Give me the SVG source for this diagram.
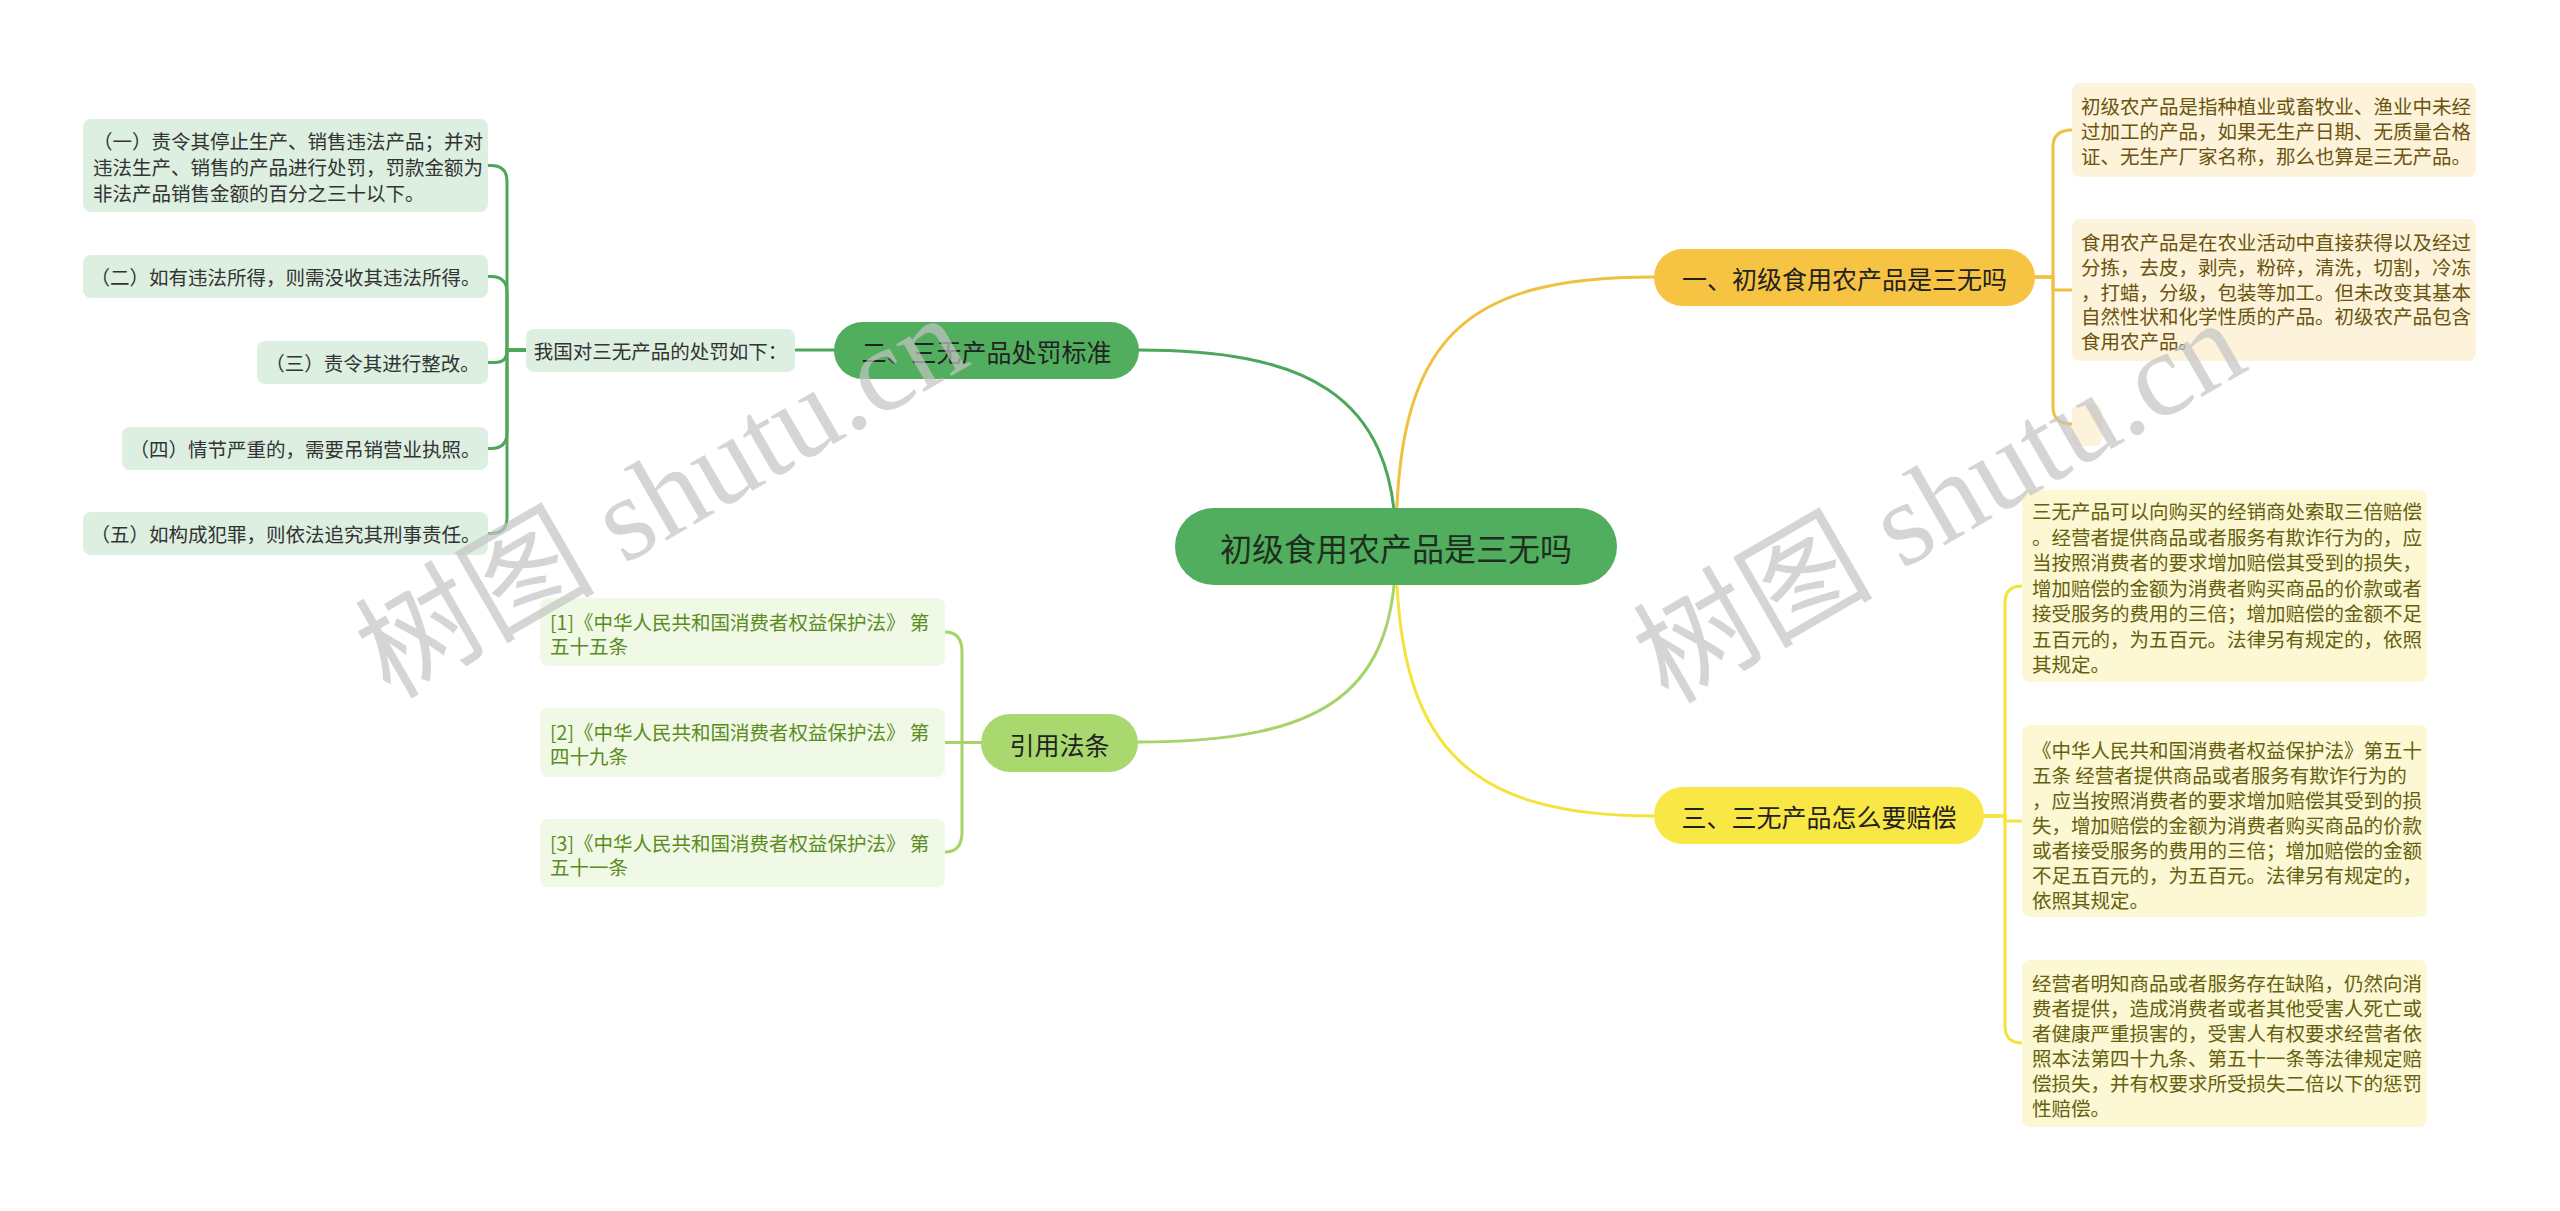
<svg xmlns="http://www.w3.org/2000/svg" width="2560" height="1211" viewBox="0 0 2560 1211">
<style>
text{font-family:"Noto Sans CJK SC","Noto Sans",sans-serif;dominant-baseline:central}
.main{font-size:32px;fill:#1e2e1e}
.br{font-size:25px;fill:#222}
.lf{font-size:19.5px}
.g2{fill:#333}
.g1{fill:#6a5410}
.g3{fill:#66600e}
.g4{fill:#5b8c1e}
.c{fill:none;stroke-width:3;stroke-linecap:round}
.wm{font-family:"Liberation Serif","Noto Sans CJK SC",serif;font-size:120px;fill:#c4c4c4;opacity:0.7;dominant-baseline:auto}
</style>
<rect width="2560" height="1211" fill="#ffffff"/>
<g id="connectors">
<path class="c" stroke="#4ea65a" d="M1138,350 C1300,350 1396,390 1396,546"/>
<path class="c" stroke="#f1c040" d="M1396,546 C1396,340 1460,277 1654,277"/>
<path class="c" stroke="#a6d36a" d="M1396,546 C1396,690 1330,742 1138,742"/>
<path class="c" stroke="#f5e23a" d="M1396,546 C1396,740 1460,816 1654,816"/>
<path class="c" stroke="#4ea65a" d="M834,350 H795"/>
<path class="c" stroke="#4ea65a" d="M526,350 H507 V181.5 Q507,165.5 491,165.5 H488"/>
<path class="c" stroke="#4ea65a" d="M526,350 H507 V292.5 Q507,276.5 491,276.5 H488"/>
<path class="c" stroke="#4ea65a" d="M526,350 H507 V350.5 Q507,362.5 495,362.5 H488"/>
<path class="c" stroke="#4ea65a" d="M526,350 H507 V432.5 Q507,448.5 491,448.5 H488"/>
<path class="c" stroke="#4ea65a" d="M526,350 H507 V517.5 Q507,533.5 491,533.5 H488"/>
<path class="c" stroke="#a6d36a" d="M981,742.5 H962 V652 Q962,632 945,632"/>
<path class="c" stroke="#a6d36a" d="M981,742.5 H945"/>
<path class="c" stroke="#a6d36a" d="M981,742.5 H962 V832 Q962,852 945,852"/>
<path class="c" stroke="#f1c040" d="M2034,277 H2053 V147 Q2053,130 2072,130"/>
<path class="c" stroke="#f1c040" d="M2034,277 H2053 V290 H2072"/>
<path class="c" stroke="#f1c040" d="M2034,277 H2053 V407 Q2053,424 2072,424"/>
<path class="c" stroke="#f5e23a" d="M1984,816 H2005 V603 Q2005,586 2022,586"/>
<path class="c" stroke="#f5e23a" d="M1984,816 H2005 V821 H2022"/>
<path class="c" stroke="#f5e23a" d="M1984,816 H2005 V1026 Q2005,1043 2022,1043"/>
</g>
<g id="root">
<rect x="1175" y="508" width="442" height="77" rx="38.5" fill="#52ae5f"/>
<text class="main" x="1396" y="547" text-anchor="middle">初级食用农产品是三无吗</text>
</g>
<g id="n1">
<rect x="1654" y="249" width="381" height="57" rx="28.5" fill="#f6c343"/>
<text class="br" x="1844.5" y="278" text-anchor="middle">一、初级食用农产品是三无吗</text>
</g>
<g id="n2">
<rect x="834" y="322" width="305" height="57" rx="28.5" fill="#52ae5f"/>
<text class="br" x="986.5" y="351" text-anchor="middle">二、三无产品处罚标准</text>
</g>
<g id="n3">
<rect x="981" y="714" width="157" height="58" rx="29" fill="#a9d86e"/>
<text class="br" x="1059.5" y="743.5" text-anchor="middle">引用法条</text>
</g>
<g id="n4">
<rect x="1654" y="787" width="330" height="57" rx="28.5" fill="#f9e746"/>
<text class="br" x="1819" y="816" text-anchor="middle">三、三无产品怎么要赔偿</text>
</g>
<g id="n2-head">
<rect x="526" y="329" width="269" height="43" rx="8" fill="#dcefe0"/>
<text class="lf g2" x="660.5" y="350.5" text-anchor="middle">我国对三无产品的处罚如下：</text>
</g>
<g id="n2-1">
<rect x="83" y="119" width="405" height="93" rx="8" fill="#dcefe0"/>
<text class="lf g2"><tspan x="93" y="140">（一）责令其停止生产、销售违法产品；并对</tspan><tspan x="93" y="166">违法生产、销售的产品进行处罚，罚款金额为</tspan><tspan x="93" y="192">非法产品销售金额的百分之三十以下。</tspan></text>
</g>
<g id="n2-2">
<rect x="83" y="255" width="405" height="43" rx="8" fill="#dcefe0"/>
<text class="lf g2" x="285.5" y="276.5" text-anchor="middle">（二）如有违法所得，则需没收其违法所得。</text>
</g>
<g id="n2-3">
<rect x="257" y="341" width="231" height="43" rx="8" fill="#dcefe0"/>
<text class="lf g2" x="372.5" y="362.5" text-anchor="middle">（三）责令其进行整改。</text>
</g>
<g id="n2-4">
<rect x="122" y="427" width="366" height="43" rx="8" fill="#dcefe0"/>
<text class="lf g2" x="305" y="448.5" text-anchor="middle">（四）情节严重的，需要吊销营业执照。</text>
</g>
<g id="n2-5">
<rect x="83" y="512" width="405" height="43" rx="8" fill="#dcefe0"/>
<text class="lf g2" x="285.5" y="533.5" text-anchor="middle">（五）如构成犯罪，则依法追究其刑事责任。</text>
</g>
<g id="n3-1">
<rect x="540" y="598" width="405" height="68" rx="8" fill="#f0f9e6"/>
<text class="lf g4"><tspan x="550" y="621">[1]《中华人民共和国消费者权益保护法》 第</tspan><tspan x="550" y="645">五十五条</tspan></text>
</g>
<g id="n3-2">
<rect x="540" y="708" width="405" height="69" rx="8" fill="#f0f9e6"/>
<text class="lf g4"><tspan x="550" y="731">[2]《中华人民共和国消费者权益保护法》 第</tspan><tspan x="550" y="755">四十九条</tspan></text>
</g>
<g id="n3-3">
<rect x="540" y="819" width="405" height="68" rx="8" fill="#f0f9e6"/>
<text class="lf g4"><tspan x="550" y="842">[3]《中华人民共和国消费者权益保护法》 第</tspan><tspan x="550" y="866">五十一条</tspan></text>
</g>
<g id="n1-1">
<rect x="2072" y="83" width="404" height="94" rx="8" fill="#fdf3da"/>
<text class="lf g1"><tspan x="2081" y="105">初级农产品是指种植业或畜牧业、渔业中未经</tspan><tspan x="2081" y="130">过加工的产品，如果无生产日期、无质量合格</tspan><tspan x="2081" y="155">证、无生产厂家名称，那么也算是三无产品。</tspan></text>
</g>
<g id="n1-2">
<rect x="2072" y="219" width="404" height="142" rx="8" fill="#fdf3da"/>
<text class="lf g1"><tspan x="2081" y="241">食用农产品是在农业活动中直接获得以及经过</tspan><tspan x="2081" y="266">分拣，去皮，剥壳，粉碎，清洗，切割，冷冻</tspan><tspan x="2081" y="290.5">，打蜡，分级，包装等加工。但未改变其基本</tspan><tspan x="2081" y="315">自然性状和化学性质的产品。初级农产品包含</tspan><tspan x="2081" y="340">食用农产品。</tspan></text>
</g>
<g id="n1-3">
<rect x="2072" y="404" width="30" height="42" rx="8" fill="#fdf3da"/>
</g>
<g id="n4-1">
<rect x="2022" y="490" width="405" height="192" rx="8" fill="#fcf8d4"/>
<text class="lf g3"><tspan x="2032" y="510">三无产品可以向购买的经销商处索取三倍赔偿</tspan><tspan x="2032" y="535.5">。经营者提供商品或者服务有欺诈行为的，应</tspan><tspan x="2032" y="561">当按照消费者的要求增加赔偿其受到的损失，</tspan><tspan x="2032" y="586.5">增加赔偿的金额为消费者购买商品的价款或者</tspan><tspan x="2032" y="612">接受服务的费用的三倍；增加赔偿的金额不足</tspan><tspan x="2032" y="637.5">五百元的，为五百元。法律另有规定的，依照</tspan><tspan x="2032" y="663">其规定。</tspan></text>
</g>
<g id="n4-2">
<rect x="2022" y="725" width="405" height="192" rx="8" fill="#fcf8d4"/>
<text class="lf g3"><tspan x="2032" y="749">《中华人民共和国消费者权益保护法》第五十</tspan><tspan x="2032" y="774">五条 经营者提供商品或者服务有欺诈行为的</tspan><tspan x="2032" y="799">，应当按照消费者的要求增加赔偿其受到的损</tspan><tspan x="2032" y="824">失，增加赔偿的金额为消费者购买商品的价款</tspan><tspan x="2032" y="849">或者接受服务的费用的三倍；增加赔偿的金额</tspan><tspan x="2032" y="874">不足五百元的，为五百元。法律另有规定的，</tspan><tspan x="2032" y="899">依照其规定。</tspan></text>
</g>
<g id="n4-3">
<rect x="2022" y="960" width="405" height="167" rx="8" fill="#fcf8d4"/>
<text class="lf g3"><tspan x="2032" y="982">经营者明知商品或者服务存在缺陷，仍然向消</tspan><tspan x="2032" y="1007">费者提供，造成消费者或者其他受害人死亡或</tspan><tspan x="2032" y="1032">者健康严重损害的，受害人有权要求经营者依</tspan><tspan x="2032" y="1057">照本法第四十九条、第五十一条等法律规定赔</tspan><tspan x="2032" y="1082">偿损失，并有权要求所受损失二倍以下的惩罚</tspan><tspan x="2032" y="1107">性赔偿。</tspan></text>
</g>
<g id="watermark">
<text class="wm" transform="translate(390,700) rotate(-30)">树图 shutu.cn</text>
<text class="wm" transform="translate(1668,705) rotate(-30)">树图 shutu.cn</text>
</g>
</svg>
